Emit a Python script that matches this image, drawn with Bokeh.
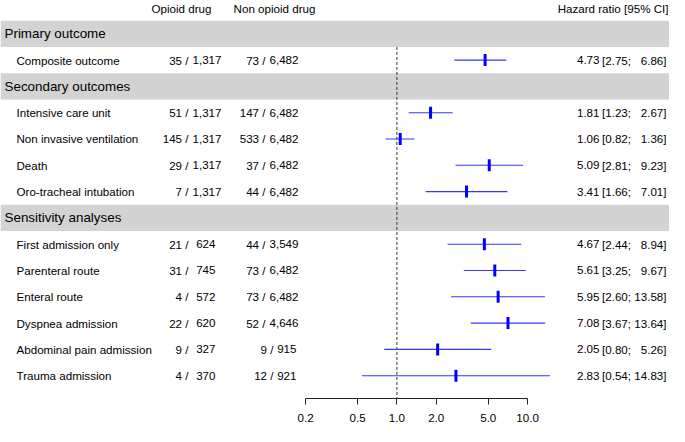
from bokeh.plotting import figure
from bokeh.models import Range1d, FixedTicker, NumeralTickFormatter, LogAxis, LogScale
from bokeh.core.properties import value
from bokeh.embed import file_html
from bokeh.resources import INLINE
import numpy as np

# ---------------- data ----------------
group_titles = ["Primary outcome", "Secondary outcomes", "Sensitivity analyses"]
group_rows = [1, 3, 8]

outcomes = ["Composite outcome", "Intensive care unit", "Non invasive ventilation",
            "Death", "Oro-tracheal intubation", "First admission only",
            "Parenteral route", "Enteral route", "Dyspnea admission",
            "Abdominal pain admission", "Trauma admission"]
outcome_rows = [2, 4, 5, 6, 7, 9, 10, 11, 12, 13, 14]

opioid_events = [35, 51, 145, 29, 7, 21, 31, 4, 22, 9, 4]
opioid_n = [1317, 1317, 1317, 1317, 1317, 624, 745, 572, 620, 327, 370]
nonopioid_events = [73, 147, 533, 37, 44, 44, 73, 73, 52, 9, 12]
nonopioid_n = [6482, 6482, 6482, 6482, 6482, 3549, 6482, 6482, 4646, 915, 921]

hr = [4.73, 1.81, 1.06, 5.09, 3.41, 4.67, 5.61, 5.95, 7.08, 2.05, 2.83]
ci_lower = [2.75, 1.23, 0.82, 2.81, 1.66, 2.44, 3.25, 2.60, 3.67, 0.80, 0.54]
ci_upper = [6.86, 2.67, 1.36, 9.23, 7.01, 8.94, 9.67, 13.58, 13.64, 5.26, 14.83]

axis_ticks = [0.2, 0.5, 1.0, 2.0, 5.0, 10.0]
col_headers = ["Opioid drug", "Non opioid drug", "Hazard ratio [95% CI]"]

# ---------------- layout ----------------
FONT = value("Liberation Sans")
FS = "11.6px"
BAND = "#d3d3d3"
W, H = 669, 426
BB = 28
y_rng = (14.867, -0.266)
HEADER_ROW = 0.04

# log scale placement of the forest panel (pixel of HR=1 and px per decade)
x_one, dec = 396.4, 130.7
hr_lo = 10 ** ((0 - x_one) / dec)
hr_hi = 10 ** ((W - x_one) / dec)

p = figure(width=W, height=H, x_range=Range1d(0, W), y_range=Range1d(*y_rng),
           x_axis_location=None, y_axis_location=None, output_backend="svg",
           toolbar_location=None, min_border_left=0, min_border_right=0,
           min_border_top=0, min_border_bottom=BB)
p.outline_line_color = None
p.xgrid.visible = False
p.ygrid.visible = False
p.extra_x_ranges = {"hr": Range1d(hr_lo, hr_hi)}
p.extra_x_scales = {"hr": LogScale()}

# grey group bands
p.hbar(y=group_rows, height=1.0, left=0, right=W, fill_color=BAND, line_color=None)


def txt(x, y, t, align="left", size=FS):
    p.text(x=x, y=y, text=t, text_font=FONT, text_font_size=size,
           text_align=align, text_baseline="middle", text_color="black")


# headers
txt([181], [HEADER_ROW], [col_headers[0]], "center")
txt([274], [HEADER_ROW], [col_headers[1]], "center")
txt([668], [HEADER_ROW], [col_headers[2]], "right")

# labels
txt([4] * len(group_titles), group_rows, group_titles, "left", "13.4px")
txt([16] * len(outcomes), outcome_rows, outcomes, "left")

# counts
op_num = [f"{e} /" for e in opioid_events]
op_den = [f"{n:,}" for n in opioid_n]
op_num_x = [188] * len(opioid_n)
op_den_x = [221 if n >= 1000 else 215 for n in opioid_n]
no_num = [f"{e} /" for e in nonopioid_events]
no_den = [f"{n:,}" for n in nonopioid_n]
no_num_x = [265 if n >= 1000 else 273 for n in nonopioid_n]
no_den_x = [298 if n >= 1000 else 296 for n in nonopioid_n]
txt(op_num_x, outcome_rows, op_num, "right")
txt(op_den_x, outcome_rows, op_den, "right")
txt(no_num_x, outcome_rows, no_num, "right")
txt(no_den_x, outcome_rows, no_den, "right")

# HR column
txt([599] * len(hr), outcome_rows, [f"{v:.2f}" for v in hr], "right")
txt([601.5] * len(hr), outcome_rows, [f"[{v:.2f};" for v in ci_lower], "left")
txt([666] * len(hr), outcome_rows, [f"{v:.2f}]" for v in ci_upper], "right")

# forest
p.segment(x0=[1.0], y0=[1.5], x1=[1.0], y1=[y_rng[0]], line_color="#333333",
          line_width=1, line_dash="3 2", x_range_name="hr")
p.segment(x0=ci_lower, y0=outcome_rows, x1=ci_upper, y1=outcome_rows,
          line_color="#3535ff", line_width=1.1, x_range_name="hr")
p.scatter(x=hr, y=outcome_rows, marker="dash", angle=np.pi / 2, size=12,
          line_color="blue", line_width=3, x_range_name="hr")

ax = LogAxis(x_range_name="hr",
             ticker=FixedTicker(ticks=axis_ticks, minor_ticks=[]),
             formatter=NumeralTickFormatter(format="0.0"),
             bounds=(axis_ticks[0], axis_ticks[-1]))
ax.major_tick_out = 6
ax.major_tick_in = 0
ax.minor_tick_out = 0
ax.minor_tick_in = 0
ax.major_label_standoff = 9
ax.axis_line_color = "#222222"
ax.major_tick_line_color = "#222222"
ax.major_label_text_font = "Liberation Sans"
ax.major_label_text_font_size = FS
ax.major_label_text_color = "black"
p.add_layout(ax, "below")

open("out.html", "w").write(file_html(p, INLINE))
